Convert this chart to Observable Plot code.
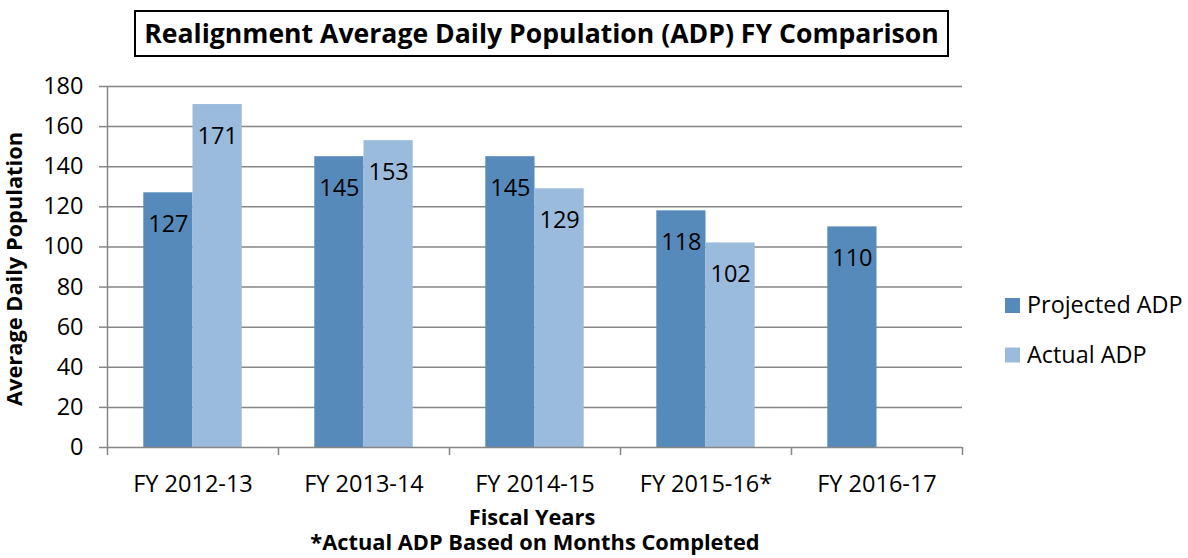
<!DOCTYPE html>
<html>
<head>
<meta charset="utf-8">
<script src="https://cdn.jsdelivr.net/npm/d3@7"></script>
<script src="https://cdn.jsdelivr.net/npm/@observablehq/plot@0.6"></script>
<style>
  body { margin: 0; background: #fff; }
  #wrap { position: relative; width: 1188px; height: 558px; font-family: "Open Sans", sans-serif; }
  #wrap > svg { position: absolute; left: 0; top: 0; }
  [aria-label^="y-axis"] path, [aria-label^="y-axis"] line { stroke: #868686; stroke-width: 1.5px; stroke-opacity: 1; }
</style>
</head>
<body>
<div id="wrap"></div>
<script>
// ---- data ----
const categories = ["FY 2012-13", "FY 2013-14", "FY 2014-15", "FY 2015-16*", "FY 2016-17"];
const projected = [127, 145, 145, 118, 110];
const actual = [171, 153, 129, 102, null];
const yTicks = [0, 20, 40, 60, 80, 100, 120, 140, 160, 180];
const seriesNames = ["Projected ADP", "Actual ADP"];
const titleText = "Realignment Average Daily Population (ADP) FY Comparison";
const xTitle = "Fiscal Years";
const yTitle = "Average Daily Population";
const footnote = "*Actual ADP Based on Months Completed";

// ---- styles ----
const colors = ["#558ABB", "#9BBBDD"];
const gridColor = "#868686";
const fs = 23.5;      // regular text
const fsBold = 21.8;  // bold axis titles / footnote

const rows = categories.map((c, i) => ({i, category: c, projected: projected[i], actual: actual[i]}));
const actualRows = rows.filter(d => d.actual != null);
const boundaries = d3.range(1, categories.length + 1);
const yMax = yTicks[yTicks.length - 1];

const chart = Plot.plot({
  width: 1188,
  height: 558,
  marginLeft: 107,
  marginRight: 226,
  marginTop: 86,
  marginBottom: 111,
  x: {domain: [0, categories.length], axis: null},
  y: {domain: [0, yMax], ticks: yTicks, tickSize: 8, tickPadding: 16, label: null},
  style: {fontFamily: "'Open Sans', sans-serif", fontSize: fs + "px", color: "#000", background: "transparent"},
  marks: [
    Plot.ruleY(yTicks.filter(v => v > 0), {stroke: gridColor, strokeWidth: 1.5}),
    Plot.rectY(rows, {x1: "i", x2: d => d.i + 1, y: "projected", fill: colors[0], insetLeft: 36.3, insetRight: 85.5}),
    Plot.rectY(actualRows, {x1: "i", x2: d => d.i + 1, y: "actual", fill: colors[1], insetLeft: 85.5, insetRight: 36.3}),
    Plot.ruleY([0], {stroke: gridColor, strokeWidth: 1.5}),
    Plot.ruleX([0], {y1: () => yMax, y2: () => 0, insetBottom: -8, stroke: gridColor, strokeWidth: 1.5}),
    Plot.ruleX(boundaries, {x: d => d, y1: () => 0, y2: () => 0, insetBottom: -8, stroke: gridColor, strokeWidth: 1.5}),
    Plot.text(rows, {x: d => d.i + 0.5, y: "projected", text: d => String(d.projected), dx: -24.6, dy: 31.5, lineAnchor: "middle", fill: "#000", fontSize: fs}),
    Plot.text(actualRows, {x: d => d.i + 0.5, y: "actual", text: d => String(d.actual), dx: 24.6, dy: 31.5, lineAnchor: "middle", fill: "#000", fontSize: fs}),
    Plot.text(rows, {x: d => d.i + 0.5, frameAnchor: "bottom", text: "category", dy: 37, lineAnchor: "middle", fill: "#000", fontSize: fs}),
    Plot.text([xTitle], {frameAnchor: "bottom", text: d => d, textAnchor: "middle", lineAnchor: "middle", dx: -3, dy: 71, fontWeight: "bold", fill: "#000", fontSize: fsBold}),
    Plot.text([footnote], {frameAnchor: "bottom", text: d => d, textAnchor: "middle", lineAnchor: "middle", dy: 95.5, fontWeight: "bold", fill: "#000", fontSize: fsBold}),
    Plot.text([yTitle], {frameAnchor: "left", text: d => d, rotate: -90, textAnchor: "middle", lineAnchor: "middle", dx: -92, dy: 2, fontWeight: "bold", fill: "#000", fontSize: fsBold})
  ]
});

const wrap = document.getElementById("wrap");
wrap.appendChild(chart);

// ---- title box and legend overlay ----
const ov = d3.select(wrap).append("svg")
  .attr("width", 1188).attr("height", 558)
  .style("font-family", "'Open Sans', sans-serif");

ov.append("rect").attr("x", 135).attr("y", 11).attr("width", 813).attr("height", 45)
  .attr("fill", "none").attr("stroke", "#000").attr("stroke-width", 2);
ov.append("text").attr("x", 541.5).attr("y", 43.3).attr("text-anchor", "middle")
  .attr("font-weight", "bold").attr("font-size", 26.6).attr("fill", "#000").text(titleText);

const lg = ov.append("g");
seriesNames.forEach((name, k) => {
  const top = [298, 347.5][k];
  lg.append("rect").attr("x", 1005).attr("y", top).attr("width", 15).attr("height", 15).attr("fill", colors[k]);
  lg.append("text").attr("x", 1027).attr("y", top + 15).attr("font-size", 23.4).attr("fill", "#000").text(name);
});
</script>
</body>
</html>
